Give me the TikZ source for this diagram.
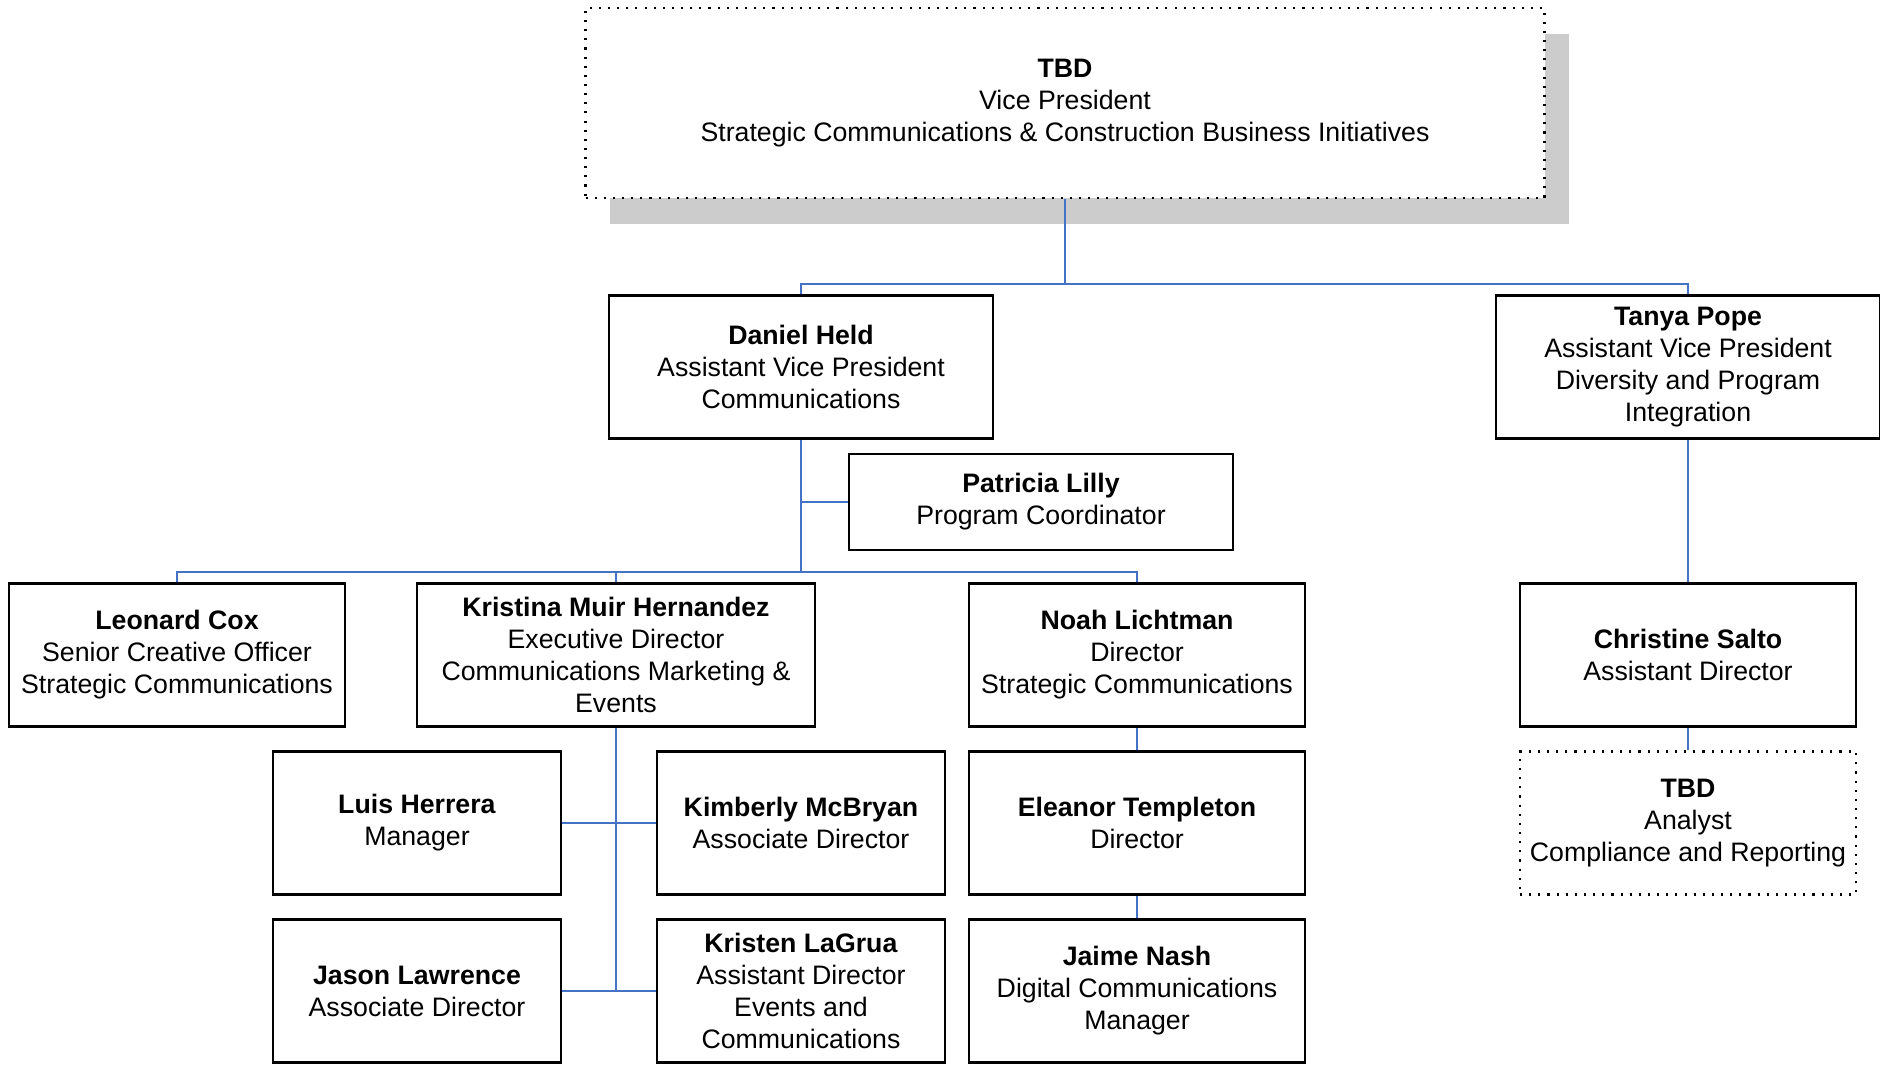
\documentclass[tikz,border=0pt]{standalone}
\usepackage{fontspec}
\setmainfont{Liberation Sans}
\usepackage{xcolor}
\usepackage{tikz}
\usetikzlibrary{positioning,shadows,calc}
\definecolor{azul}{HTML}{4472C4}
\definecolor{sombra}{HTML}{CCCCCC}
\newcommand{\nombre}[1]{\textbf{#1}}
\tikzset{
  caja/.style={draw=black,fill=white,line width=0.6pt,align=center,inner sep=2pt,
    font=\fontsize{7.6pt}{9.1pt}\selectfont,minimum width=33.6mm,minimum height=14.3mm},
  cajaestrecha/.style={caja,minimum width=28.8mm},
  cajapuntos/.style={caja,draw=black,dotted,line width=0.7pt},
  linea/.style={draw=azul,line width=0.6pt},
}
\begin{document}
\begin{tikzpicture}
  \useasboundingbox (0,0) rectangle (18.8,10.65);
  % direccion
  \node[cajapuntos,minimum width=95.9mm,minimum height=19mm,
    drop shadow={opacity=1,fill=sombra,shadow xshift=2.4mm,shadow yshift=-2.6mm}] (vp) at (10.65,9.62)
    {\nombre{TBD}\\Vice President\\Strategic Communications \& Construction Business Initiatives};
  % vicepresidencias adjuntas
  \node[caja,minimum width=38.4mm] (held) at (8.01,6.98) {\nombre{Daniel Held}\\Assistant Vice President\\Communications};
  \node[caja,minimum width=38.4mm] (pope) at (16.88,6.98) {\nombre{Tanya Pope}\\Assistant Vice President\\Diversity and Program\\Integration};
  \node[caja,minimum width=38.4mm,minimum height=9.6mm] (lilly) at (10.41,5.63) {\nombre{Patricia Lilly}\\Program Coordinator};
  % segundo nivel
  \node[caja] (cox) at (1.77,4.10) {\nombre{Leonard Cox}\\Senior Creative Officer\\Strategic Communications};
  \node[caja,minimum width=39.8mm] (muir) at (6.16,4.10) {\nombre{Kristina Muir Hernandez}\\Executive Director\\Communications Marketing \&\\Events};
  \node[caja] (lichtman) at (11.37,4.10) {\nombre{Noah Lichtman}\\Director\\Strategic Communications};
  \node[caja] (salto) at (16.88,4.10) {\nombre{Christine Salto}\\Assistant Director};
  % tercer nivel
  \node[cajaestrecha] (herrera) at (4.17,2.42) {\nombre{Luis Herrera}\\Manager};
  \node[cajaestrecha] (mcbryan) at (8.01,2.42) {\nombre{Kimberly McBryan}\\Associate Director};
  \node[caja] (templeton) at (11.37,2.42) {\nombre{Eleanor Templeton}\\Director};
  \node[cajapuntos] (analista) at (16.88,2.42) {\nombre{TBD}\\Analyst\\Compliance and Reporting};
  \node[cajaestrecha] (lawrence) at (4.17,0.74) {\nombre{Jason Lawrence}\\Associate Director};
  \node[cajaestrecha] (lagrua) at (8.01,0.74) {\nombre{Kristen LaGrua}\\Assistant Director\\Events and\\Communications};
  \node[caja] (nash) at (11.37,0.74) {\nombre{Jaime Nash}\\Digital Communications\\Manager};
  % conectores
  \coordinate (bus1) at (10.65,7.81);
  \coordinate (bus2) at (8.01,4.93);
  \draw[linea] (vp.south) -- (bus1) -| (held.north);
  \draw[linea] (bus1) -| (pope.north);
  \draw[linea] (held.south) -- (bus2);
  \draw[linea] (held.south |- lilly.west) -- (lilly.west);
  \draw[linea] (bus2) -| (cox.north);
  \draw[linea] (bus2) -| (muir.north);
  \draw[linea] (bus2) -| (lichtman.north);
  \draw[linea] (muir.south) -- (muir.south |- lawrence.east);
  \draw[linea] (herrera.east) -- (mcbryan.west);
  \draw[linea] (lawrence.east) -- (lagrua.west);
  \draw[linea] (lichtman) -- (templeton) -- (nash);
  \draw[linea] (pope) -- (salto) -- (analista);
\end{tikzpicture}
\end{document}
